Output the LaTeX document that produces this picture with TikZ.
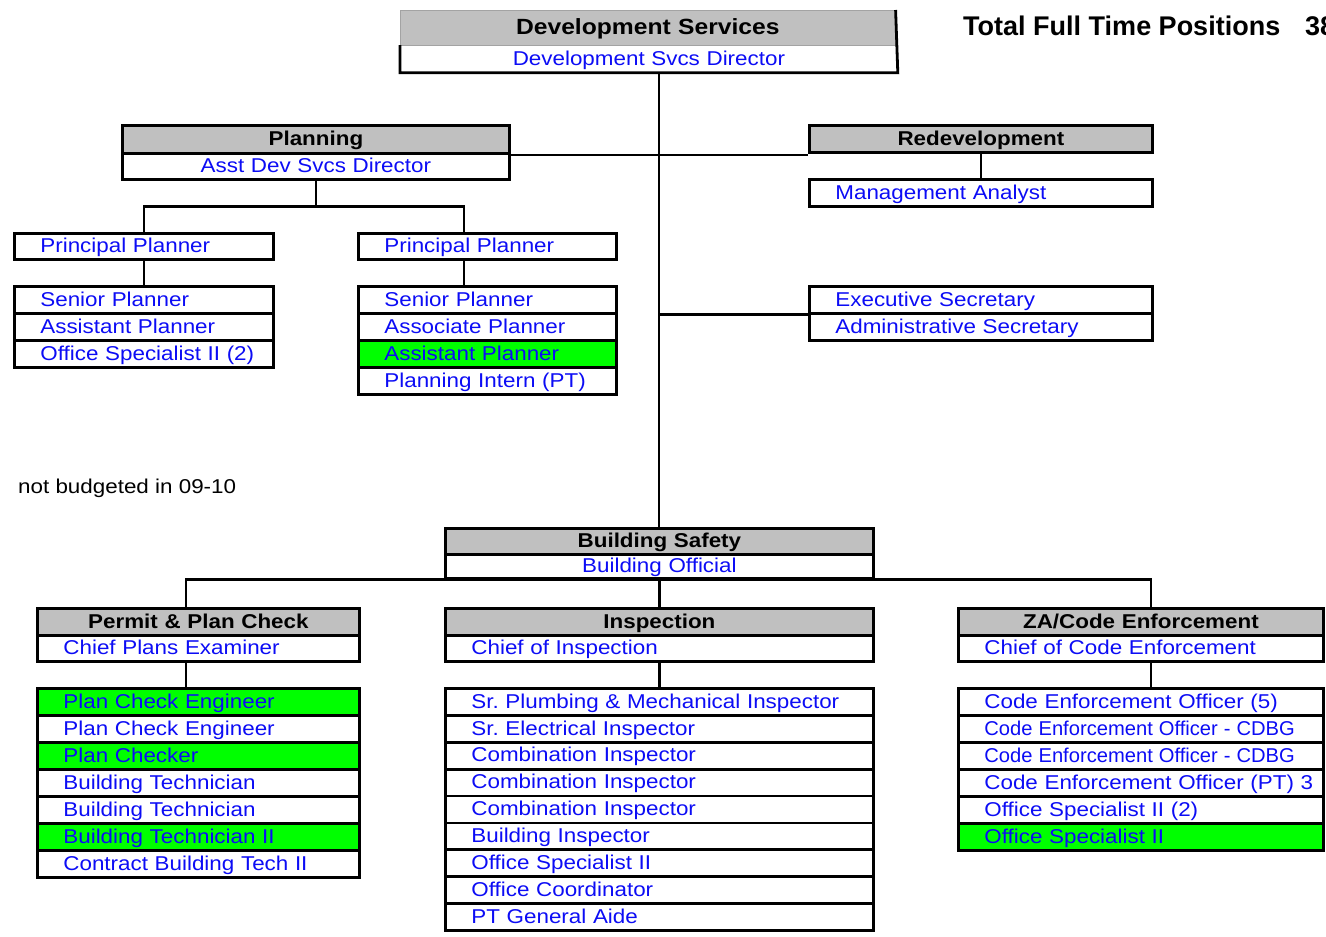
\documentclass[tikz,border=0pt]{standalone}
\usepackage{fontspec}
\usepackage{graphicx}
\setmainfont{Liberation Sans}[FakeStretch=1.12]
\newfontfamily\titlefont{Liberation Sans}
\usetikzlibrary{calc}
\frenchspacing

\definecolor{hdrgray}{RGB}{192,192,192}
\definecolor{vacant}{RGB}{0,255,0}
\definecolor{posblue}{RGB}{12,12,245}

% narrower setting for the longest position titles
\newcommand{\tightname}[1]{\scalebox{0.9}[1]{#1}}

\tikzset{
  cellbase/.style={anchor=north west, inner sep=0pt, text height=14.5pt, text depth=2pt,
    minimum height=27pt, font=\fontsize{20}{24}\selectfont\frenchspacing},
  hdr/.style={cellbase, draw=black, line width=2.8pt, fill=hdrgray, text width=#1,
    align=center, font=\fontsize{20}{24}\selectfont\bfseries},
  cpos/.style={cellbase, draw=black, line width=2.8pt, fill=white, text=posblue,
    text width=#1, align=center},
  pos/.style={cellbase, draw=black, line width=2.8pt, fill=white, text=posblue,
    text width=#1, align=left,
    execute at begin node={\hspace*{26pt}\hbox\bgroup}, execute at end node={\egroup}},
  link/.style={draw=black, line width=2.8pt},
  spine/.style={draw=black, line width=2pt},
  bridge/.style={draw=black, line width=1.4pt},
}

\begin{document}
\begin{tikzpicture}[x=1pt, y=-1pt]
\fill[white] (0,0) rectangle (1326,937);
\useasboundingbox (0,0) rectangle (1326,937);

% ---- department head ----
\node[hdr=495pt, draw=hdrgray!85!black, line width=0.6pt, minimum height=35pt,
      text height=16pt, font=\fontsize{22}{26}\selectfont\bfseries] (dsh) at (400,10) {Development Services};
\node[cpos=495pt, draw=none, minimum height=25pt] (dsd) at (400,45) {Development Svcs Director};
\draw[line width=2.8pt] (dsd.north west) -- (dsd.south west) -- (dsd.south east) -- (dsh.north east);

\node[anchor=base west, inner sep=0pt, font=\titlefont\fontsize{27}{30}\selectfont\bfseries] (tot) at (963,35) {Total Full Time Positions};
\node[anchor=base west, inner sep=0pt, font=\titlefont\fontsize{27}{30}\selectfont\bfseries] (cnt) at (1305,35) {38};

% ---- Planning ----
\node[hdr=387pt, minimum height=28pt] (plh) at (121,124) {Planning};
\node[cpos=387pt, minimum height=26pt] (asst) at (121,152) {Asst Dev Svcs Director};

\node[pos=259pt, minimum height=26pt] (pp1) at (13,232) {Principal Planner};
\node[pos=259pt] (sp1) at (13,285) {Senior Planner};
\node[pos=259pt] (ap1) at (13,312) {Assistant Planner};
\node[pos=259pt] (os1) at (13,339) {Office Specialist II (2)};

\node[pos=258pt, minimum height=26pt] (pp2) at (357,232) {Principal Planner};
\node[pos=258pt] (sp2) at (357,285) {Senior Planner};
\node[pos=258pt] (asp2) at (357,312) {Associate Planner};
\node[pos=258pt, fill=vacant] (ap2) at (357,339) {Assistant Planner};
\node[pos=258pt] (pi2) at (357,366) {Planning Intern (PT)};

% ---- Redevelopment and office staff ----
\node[hdr=343pt] (rdh) at (808,124) {Redevelopment};
\node[pos=343pt] (ma) at (808,178) {Management Analyst};
\node[pos=343pt] (exs) at (808,285) {Executive Secretary};
\node[pos=343pt] (adms) at (808,312) {Administrative Secretary};

% ---- key ----
\node[anchor=base west, inner sep=0pt, font=\fontsize{20}{24}\selectfont] (legend) at (18,493) {not budgeted in 09-10};

% ---- Building Safety ----
\node[hdr=428pt, minimum height=26pt] (bsh) at (444,527) {Building Safety};
\node[cpos=428pt, minimum height=24pt] (bo) at (444,553) {Building Official};

\node[hdr=322pt] (pph) at (36,607) {Permit \& Plan Check};
\node[pos=322pt, minimum height=26pt] (cpe) at (36,634) {Chief Plans Examiner};
\node[hdr=428pt] (insh) at (444,607) {Inspection};
\node[pos=428pt, minimum height=26pt] (coi) at (444,634) {Chief of Inspection};
\node[hdr=365pt] (zah) at (957,607) {ZA/Code Enforcement};
\node[pos=365pt, minimum height=26pt] (cce) at (957,634) {Chief of Code Enforcement};

\foreach \t/\c [count=\i from 0] in {
  Plan Check Engineer/vacant, Plan Check Engineer/white, Plan Checker/vacant,
  Building Technician/white, Building Technician/white, Building Technician II/vacant,
  Contract Building Tech II/white}
  \node[pos=322pt, fill=\c] (pc\i) at (36,{687+27*\i}) {\t};

\foreach \t [count=\i from 0] in {
  Sr. Plumbing \& Mechanical Inspector, Sr. Electrical Inspector, Combination Inspector,
  Combination Inspector, Combination Inspector, Building Inspector, Office Specialist II,
  Office Coordinator, PT General Aide}
  \node[pos=428pt, minimum height=26.9pt] (in\i) at (444,{687+26.9*\i}) {\t};

\foreach \t/\c [count=\i from 0] in {
  Code Enforcement Officer (5)/white, \tightname{Code Enforcement Officer - CDBG}/white,
  \tightname{Code Enforcement Officer - CDBG}/white, Code Enforcement Officer (PT) 3/white,
  Office Specialist II (2)/white, Office Specialist II/vacant}
  \node[pos=365pt, fill=\c] (za\i) at (957,{687+27*\i}) {\t};

% ---- connectors ----
\draw[spine] (bsh.north) -- (bsh.north |- dsd.south);
\draw[bridge] (plh.south east) -- (plh.south east -| rdh.west);
\draw[link] (exs.south west -| bsh.north) -- (exs.south west);
\draw[link] (rdh.south) -- (ma.north);

\coordinate (pj) at ($(asst.south)+(0,26)$);
\coordinate (pp2top) at ($(pp2.north west)+(107,0)$);
\draw[link] (asst.south) -- (pj);
\draw[link] (pp1.north) |- (pj) -| (pp2top);
\draw[link] (pp1.south) -- (sp1.north);
\draw[link] (pp2top |- pp2.south) -- (pp2top |- sp2.north);

\coordinate (busL) at ($(pph.north west)+(150,0)$);
\coordinate (busR) at ($(zah.north west)+(194,0)$);
\draw[link] (busL) |- (bo.south) -| (busR);
\draw[link] (bo.south) -- (insh.north);
\draw[link] (busL |- cpe.south) -- (busL |- pc0.north);
\draw[link] (coi.south) -- (in0.north);
\draw[link] (busR |- cce.south) -- (busR |- za0.north);
\end{tikzpicture}
\end{document}
